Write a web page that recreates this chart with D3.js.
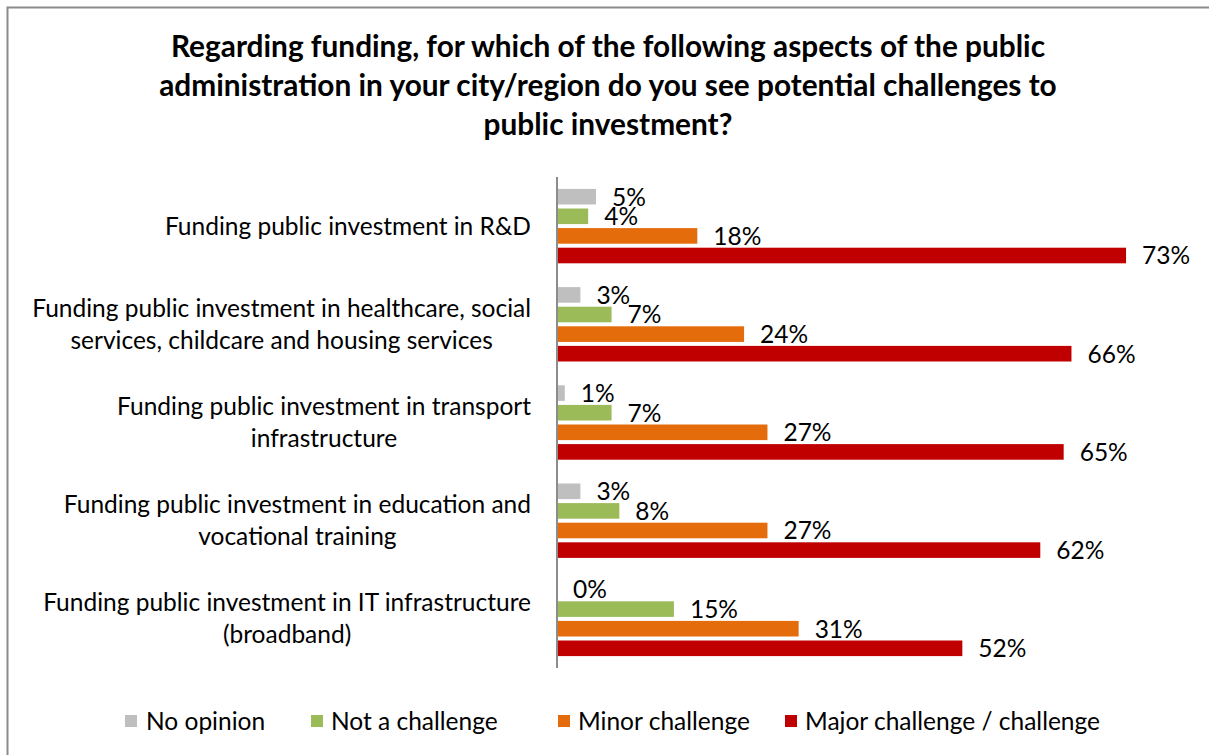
<!DOCTYPE html>
<html>
<head>
<meta charset="utf-8">
<script src="https://cdn.jsdelivr.net/npm/d3@7"></script>
<style>
  html, body { margin: 0; padding: 0; background: #fff; }
  svg { display: block; }
  text { font-family: "Lato", "Liberation Sans", sans-serif; fill: #000; }
</style>
</head>
<body>
<svg id="chart" width="1209" height="755"></svg>
<script>
// Survey categories (each label split into its display lines)
const categories = [
  "Funding public investment in R&D",
  "Funding public investment in healthcare, social services, childcare and housing services",
  "Funding public investment in transport infrastructure",
  "Funding public investment in education and vocational training",
  "Funding public investment in IT infrastructure (broadband)"
];
const categoryLines = [
  ["Funding public investment in R&D"],
  ["Funding public investment in healthcare, social", "services, childcare and housing services"],
  ["Funding public investment in transport", "infrastructure"],
  ["Funding public investment in education and", "vocational training"],
  ["Funding public investment in IT infrastructure", "(broadband)"]
];

// Answer options, drawn top to bottom within each category
const series = ["No opinion", "Not a challenge", "Minor challenge", "Major challenge / challenge"];
const seriesColors = ["#BFBFBF", "#9BBB59", "#E46C0A", "#C00000"];

// Share of respondents (%) per answer, one array per answer option
const noOpinion      = [5, 3, 1, 3, 0];
const notAChallenge  = [4, 7, 7, 8, 15];
const minorChallenge = [18, 24, 27, 27, 31];
const majorChallenge = [73, 66, 65, 62, 52];
const seriesValues = [noOpinion, notAChallenge, minorChallenge, majorChallenge];

const titleLines = [
  "Regarding funding, for which of the following aspects of the public",
  "administration in your city/region do you see potential challenges to",
  "public investment?"
];

const svg = d3.select("#chart");

// Outer frame
svg.append("rect")
  .attr("x", 7.5).attr("y", 7.5)
  .attr("width", 1400).attr("height", 1000)
  .attr("fill", "none")
  .attr("stroke", "#8a8a8a")
  .attr("stroke-width", 2);

// Title
svg.append("text")
  .attr("text-anchor", "middle")
  .style("font-weight", "bold")
  .style("font-size", "29.8px")
  .selectAll("tspan")
  .data(titleLines)
  .join("tspan")
  .attr("x", 608)
  .attr("y", (d, i) => 57 + i * 39)
  .text(d => d);

// Scales
const x = d3.scaleLinear().domain([0, 100]).range([557, 557 + 779.5]);
const y0 = d3.scaleBand().domain(d3.range(categories.length)).range([177, 668]).padding(0);
const y1 = d3.scaleBand().domain(d3.range(series.length))
  .range([0, y0.bandwidth()])
  .paddingInner(0.204)
  .paddingOuter(0.607);

// Bars
const groups = svg.append("g")
  .selectAll("g")
  .data(categories.map((c, i) => i))
  .join("g")
  .attr("transform", i => `translate(0,${y0(i)})`);

groups.selectAll("rect")
  .data(ci => seriesValues.map((vals, si) => ({ si, v: vals[ci] })))
  .join("rect")
  .attr("x", x(0))
  .attr("y", d => y1(d.si))
  .attr("width", d => x(d.v) - x(0))
  .attr("height", y1.bandwidth())
  .attr("fill", d => seriesColors[d.si]);

// Value labels
groups.selectAll("text.val")
  .data(ci => seriesValues.map((vals, si) => ({ si, v: vals[ci] })))
  .join("text")
  .attr("class", "val")
  .attr("x", d => x(d.v) + 16)
  .attr("y", d => y1(d.si) + y1.bandwidth() / 2)
  .attr("dy", "0.36em")
  .style("font-size", "24.5px")
  .text(d => d.v + "%");

// Vertical axis line
svg.append("line")
  .attr("x1", x(0)).attr("x2", x(0))
  .attr("y1", y0.range()[0]).attr("y2", y0.range()[1])
  .attr("stroke", "#8c8c8c")
  .attr("stroke-width", 2);

// Category labels: block right-aligned to the axis, lines centred within it
const labelRight = 531;
svg.append("g")
  .selectAll("g")
  .data(categoryLines)
  .join("g")
  .each(function (lines, i) {
    const g = d3.select(this);
    const cy = y0(i) + y0.bandwidth() / 2;
    const lh = 32;
    const t = g.selectAll("text")
      .data(lines)
      .join("text")
      .style("font-size", "24.5px")
      .attr("y", (d, k) => cy + (k - (lines.length - 1) / 2) * lh)
      .attr("dy", "0.35em")
      .text(d => d);
    const widths = t.nodes().map(n => n.getComputedTextLength());
    const maxW = d3.max(widths);
    t.attr("x", labelRight - maxW / 2).attr("text-anchor", "middle");
  });

// Legend
const legendItems = [
  { x: 125, tx: 146 },
  { x: 311, tx: 331 },
  { x: 558, tx: 578 },
  { x: 785, tx: 805 }
];
const legend = svg.append("g")
  .selectAll("g")
  .data(series)
  .join("g");
legend.append("rect")
  .attr("x", (d, i) => legendItems[i].x)
  .attr("y", 715)
  .attr("width", 12).attr("height", 12)
  .attr("fill", (d, i) => seriesColors[i]);
legend.append("text")
  .attr("x", (d, i) => legendItems[i].tx)
  .attr("y", 721)
  .attr("dy", "0.36em")
  .style("font-size", "24.5px")
  .text(d => d);
</script>
</body>
</html>
